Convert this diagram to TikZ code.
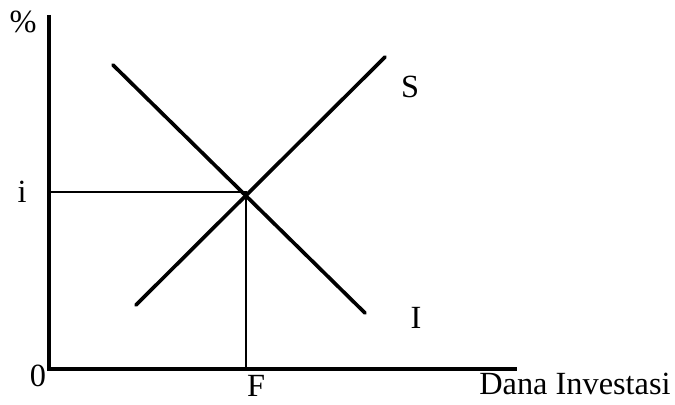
\documentclass[tikz,border=0pt]{standalone}
\usepackage{fontspec}
\setmainfont{Liberation Serif}
\usetikzlibrary{calc}

\begin{document}
\begin{tikzpicture}[x=0.025cm, y=-0.025cm, font=\fontsize{23}{26}\selectfont]

    % ==========================================
    % FRAME (keeps the 675 x 405 proportions)
    % ==========================================
    \useasboundingbox (0,0) rectangle (675,405);

    % ==========================================
    % AXES
    % ==========================================
    \coordinate (O) at (49,369);      % origin
    \coordinate (Ytop) at (49,15);    % top of the rate axis
    \coordinate (Xend) at (517,369);  % end of the funds axis

    \draw[line width=2.4pt] (Ytop) -- (O) -- (Xend);

    % ==========================================
    % SUPPLY AND INVESTMENT LINES
    % ==========================================
    \coordinate (S_low) at (136,305);
    \coordinate (S_high) at (385,57);
    \coordinate (I_high) at (113,65);
    \coordinate (I_low) at (365,313);

    \draw[line width=2.6pt, line cap=round] (S_low) -- (S_high);
    \draw[line width=2.6pt, line cap=round] (I_high) -- (I_low);

    % Equilibrium point and its projections on the axes
    \coordinate (E) at (246,192);
    \coordinate (E_y) at (49,192);
    \coordinate (E_x) at (246,369);
    \draw[line width=1.9pt] (E_y) -- (E) -- (E_x);

    % ==========================================
    % LABELS
    % ==========================================
    \node (percent) at (23,22) {\%};
    \node (rate) at (22,192) {i};
    \node (zero) at (38,376) {0};
    \node (funds) at (256,386) {F};
    \node (xlabel) at (575,384) {Dana Investasi};
    \node (Slabel) at (410,87) {S};
    \node (Ilabel) at (416,318) {I};
\end{tikzpicture}
\end{document}
